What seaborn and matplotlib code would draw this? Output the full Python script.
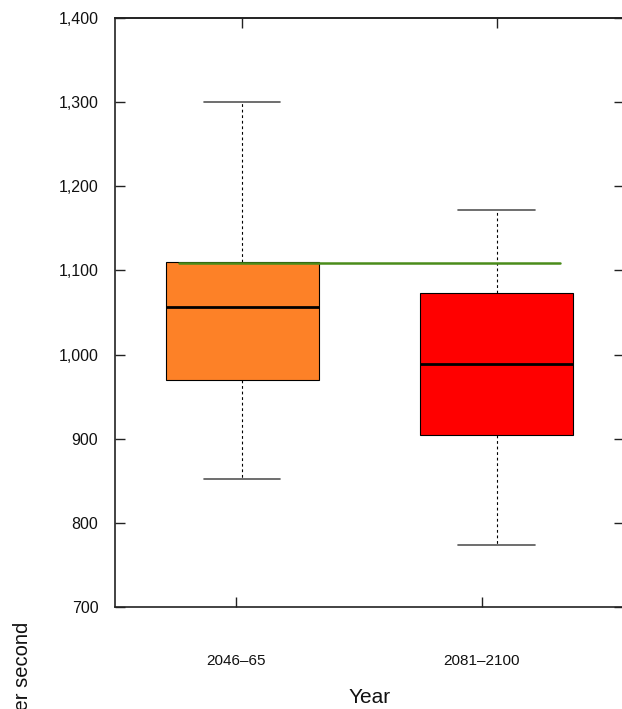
import pandas as pd
import seaborn as sns
import matplotlib.pyplot as plt
from matplotlib.ticker import FuncFormatter

# data: five-number summaries (min, q1, median, q3, max)
periods = ['2046\u201365', '2081\u20132100']
summary_2046 = [852, 970, 1056, 1110, 1300]
summary_2081 = [774, 904, 989, 1073, 1172]
box_colors = ['#fd8127', '#ff0000']
baseline = 1109
baseline_span = [-0.25, 1.25]
y_ticks = [700, 800, 900, 1000, 1100, 1200, 1300, 1400]
bottom_tick_pos = [-0.024, 0.941]   # the x labels sit a little left of the boxes

df = pd.DataFrame({'year': [periods[0]] * 5 + [periods[1]] * 5,
                   'flow': summary_2046 + summary_2081})

sns.set_theme(style='ticks')
plt.rcParams['font.family'] = ['Liberation Sans', 'DejaVu Sans']

fig = plt.figure(figsize=(6.22, 7.09), dpi=100)
ax = fig.add_axes([115 / 622, 1 - 607 / 709, 1.003 - 115 / 622, (607 - 18) / 709])

sns.boxplot(data=df, x='year', y='flow', hue='year', palette=box_colors, legend=False,
            saturation=1, width=0.6, whis=(0, 100), linewidth=0.8, linecolor='black', ax=ax,
            whiskerprops=dict(linestyle=(0, (2.5, 2.5)), linewidth=0.8, color='black'),
            capprops=dict(color='#555555', linewidth=1.2),
            medianprops=dict(color='black', linewidth=2),
            boxprops=dict(edgecolor='black', linewidth=0.8))

ax.plot(baseline_span, [baseline, baseline], color='#4a8c1a', linewidth=1.8, zorder=5)

ax.set_xlim(-0.5, 1.5)
ax.set_ylim(700, 1400)
ax.set_yticks(y_ticks)
ax.yaxis.set_major_formatter(FuncFormatter(lambda v, p: f'{v:,.0f}'))
ax.set_xticks(bottom_tick_pos)
ax.set_xticklabels(periods)

top = ax.secondary_xaxis('top')
top.set_xticks([0, 1])
top.set_xticklabels([])
top.tick_params(direction='in', length=7.2, width=1, color='#222222')

ax.tick_params(axis='both', direction='in', length=7.2, width=1, color='#222222',
               right=True, labelcolor='#111111')
ax.tick_params(axis='y', labelsize=11.5, pad=12)
ax.tick_params(axis='x', labelsize=11, pad=34)
for sp in ax.spines.values():
    sp.set_color('#222222')
    sp.set_linewidth(1.2)
top.spines['top'].set_linewidth(1.2)
top.spines['top'].set_color('#222222')

ax.set_xlabel('Year', fontsize=15, labelpad=14, color='#111111')
ax.set_ylabel('')
fig.text(23 / 622, 1 - 622 / 709, 'Streamflow, in cubic feet per second',
         rotation=90, ha='center', va='top', fontsize=14.5, color='#111111')

fig.savefig('out.png', dpi=100)
